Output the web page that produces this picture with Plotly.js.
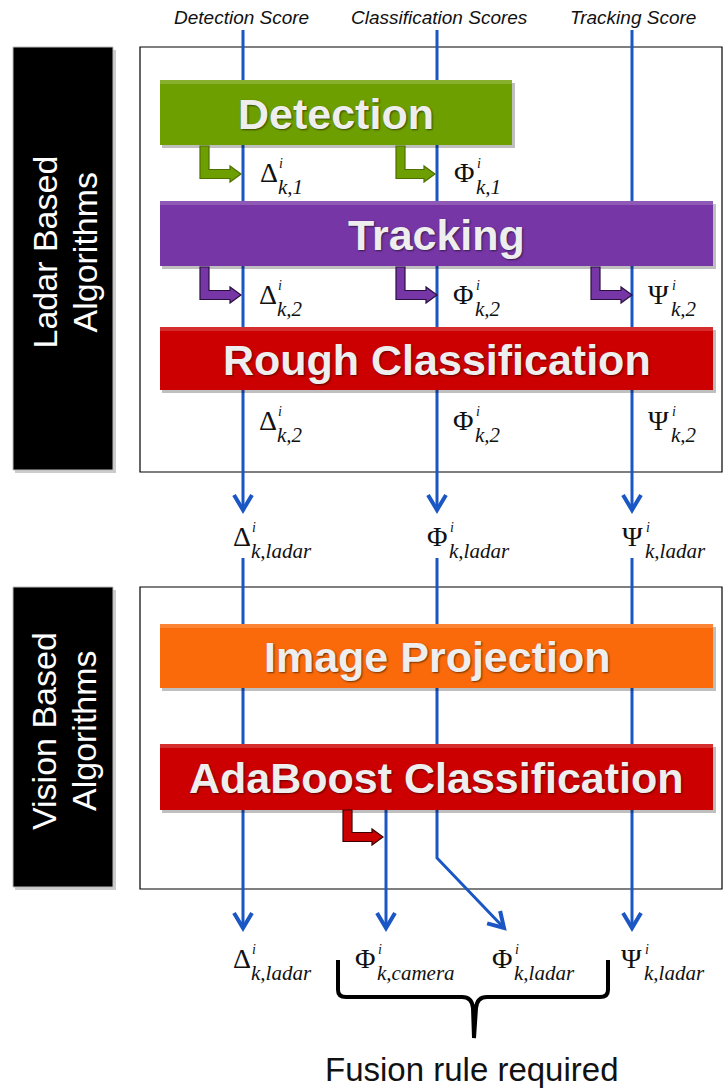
<!DOCTYPE html>
<html>
<head>
<meta charset="utf-8">
<script src="https://cdn.plot.ly/plotly-3.0.1.min.js"></script>
<style>html,body{margin:0;padding:0;background:#fff;}#chart{width:726px;height:1092px;}</style>
</head>
<body>
<div id="chart"></div>
<script>
// ---- data ----
const scoreTitles = ['Detection Score', 'Classification Scores', 'Tracking Score'];
const groupNames = [['Ladar Based', 'Algorithms'], ['Vision Based', 'Algorithms']];
const ladarStages = ['Detection', 'Tracking', 'Rough Classification'];
const visionStages = ['Image Projection', 'AdaBoost Classification'];
const scoreSymbols = ['Δ', 'Φ', 'Ψ'];
const stageSubscripts = ['k,1', 'k,2', 'k,2'];
const ladarSubscript = 'k,ladar';
const fusedSymbols = ['Δ', 'Φ', 'Φ', 'Ψ'];
const fusedSubscripts = ['k,ladar', 'k,camera', 'k,ladar', 'k,ladar'];
const superscript = 'i';
const fusionNote = 'Fusion rule required';

// ---- layout helpers ----
const SANS = 'Liberation Sans, Arial, sans-serif';
const SERIF = 'Liberation Serif, Times New Roman, serif';
const BLUE = '#1a56c4';
const shapes = [];
const annotations = [];

const laneX = [243, 437, 632];
const symW = {'Δ': 17, 'Φ': 21, 'Ψ': 22};

function rect(x0, y0, x1, y1, fill, lineColor, lw, layer) {
  shapes.push({type: 'rect', xref: 'x', yref: 'y', x0, y0, x1, y1, fillcolor: fill,
    line: {color: lineColor || fill, width: lw === undefined ? 0 : lw}, layer: layer || 'above'});
}
function path(d, fill, lineColor, w) {
  shapes.push({type: 'path', xref: 'x', yref: 'y', path: d, fillcolor: fill || 'rgba(0,0,0,0)',
    line: {color: lineColor, width: w}, layer: 'above'});
}
function text(x, y, t, font, opts) {
  annotations.push(Object.assign({xref: 'x', yref: 'y', x, y, text: t, showarrow: false,
    xanchor: 'center', yanchor: 'middle', font}, opts || {}));
}
function chevron(tx, ty, dx, dy) {
  const L = Math.hypot(dx, dy); const ux = dx / L, uy = dy / L; const px = -uy, py = ux;
  const b = 15, h = 9;
  const ax = tx - ux * b + px * h, ay = ty - uy * b + py * h;
  const cx = tx - ux * b - px * h, cy = ty - uy * b - py * h;
  path(`M${ax},${ay} L${tx},${ty} L${cx},${cy}`, null, BLUE, 4);
}
function blueArrow(pts) {
  const d = 'M' + pts.map(p => p.join(',')).join(' L');
  path(d, null, BLUE, 3);
  const n = pts.length; const a = pts[n - 2], b = pts[n - 1];
  chevron(b[0], b[1], b[0] - a[0], b[1] - a[1]);
}
function bentArrow(x0, y0, y1, x1, fill, edge) {
  const w = 9, hh = 8, hl = 11;
  const hx = x1 - hl;
  const d = `M${x0},${y0} L${x0 + w},${y0} L${x0 + w},${y1 - w / 2} L${hx},${y1 - w / 2} L${hx},${y1 - hh} ` +
            `L${x1},${y1} L${hx},${y1 + hh} L${hx},${y1 + w / 2} L${x0},${y1 + w / 2} Z`;
  path(d, fill, edge, 1.2);
}
function scoreLabel(x, y, sym, sub) {
  const w = symW[sym];
  text(x, y, sym, {family: SERIF, size: 28, color: '#111'}, {xanchor: 'left'});
  text(x + w + 2, y - 9, '<i>' + superscript + '</i>', {family: SERIF, size: 14, color: '#111'}, {xanchor: 'left'});
  text(x + w + 1, y + 15, '<i>' + sub + '</i>', {family: SERIF, size: 21, color: '#111'}, {xanchor: 'left'});
}
function stageBox(x0, y0, x1, y1, fill, label) {
  rect(x0 + 2, y0 + 3, x1 + 3, y1 + 3, 'rgba(0,0,0,0.25)');
  rect(x0, y0, x1, y1, fill);
  rect(x0, y0, x1, y0 + 4, 'rgba(255,255,255,0.18)');
  text((x0 + x1) / 2, (y0 + y1) / 2 + 1, label,
    {family: SANS, size: 43, color: '#eeeeee', weight: 'bold', shadow: '1px 1px 2px rgba(0,0,0,0.55)'});
}

// top titles
const titleX = [241, 439, 633];
scoreTitles.forEach((t, i) => text(titleX[i], 17, '<i>' + t + '</i>', {family: SANS, size: 19, color: '#111'}));

// group side labels
const groupY = [[47, 470], [587, 887]];
groupNames.forEach((g, i) => {
  const cy = (groupY[i][0] + groupY[i][1]) / 2 - 6;
  rect(15, groupY[i][0] + 3, 116, groupY[i][1] + 3, 'rgba(0,0,0,0.2)');
  rect(13, groupY[i][0], 113, groupY[i][1], '#000', '#bbb', 1);
  text(44, cy, g[0], {family: SANS, size: 34, color: '#fff'}, {textangle: -90});
  text(84, cy, g[1], {family: SANS, size: 34, color: '#fff'}, {textangle: -90});
});

// group frames
rect(140, 47, 722, 472, 'rgba(0,0,0,0)', '#000', 1.2, 'below');
rect(140, 587, 722, 889, 'rgba(0,0,0,0)', '#000', 1.2, 'below');

// blue lanes (ladar section)
laneX.forEach(x => blueArrow([[x, 30], [x, 510]]));
// vision section lanes
blueArrow([[laneX[0], 558], [laneX[0], 928]]);
blueArrow([[laneX[2], 558], [laneX[2], 928]]);
blueArrow([[laneX[1], 558], [laneX[1], 858], [504, 928]]);
blueArrow([[386, 810], [386, 928]]);

// stage boxes
const ladarBoxes = [[160, 80, 512, 145, '#6e9f00'], [160, 201, 713, 266, '#7636a6'], [160, 327, 713, 390, '#cc0000']];
ladarStages.forEach((s, i) => { const b = ladarBoxes[i]; stageBox(b[0], b[1], b[2], b[3], b[4], s); });
const visionBoxes = [[160, 624, 713, 688, '#fa6a0a'], [160, 744, 713, 810, '#cc0000']];
visionStages.forEach((s, i) => { const b = visionBoxes[i]; stageBox(b[0], b[1], b[2], b[3], b[4], s); });

// bent arrows
bentArrow(200, 146, 174, 241, '#6e9f00', '#4d7000');
bentArrow(396, 146, 174, 435, '#6e9f00', '#4d7000');
[200, 396, 591].forEach(x => bentArrow(x, 267, 295, x + 41, '#7636a6', '#2a0f40'));
bentArrow(343, 810, 837, 383, '#cc0000', '#3a0000');

// stage score labels
[0, 1].forEach(j => scoreLabel(laneX[j] + 15, 172, scoreSymbols[j], stageSubscripts[0]));
[0, 1, 2].forEach(j => scoreLabel(laneX[j] + 14, 294, scoreSymbols[j], stageSubscripts[1]));
[0, 1, 2].forEach(j => scoreLabel(laneX[j] + 14, 420, scoreSymbols[j], stageSubscripts[2]));
// ladar outputs
[0, 1, 2].forEach(j => scoreLabel(laneX[j] - 12, 536, scoreSymbols[j], ladarSubscript));
// fused outputs
const fusedX = [231, 353, 490, 619];
fusedSymbols.forEach((s, j) => scoreLabel(fusedX[j], 958, s, fusedSubscripts[j]));

// brace
path('M338,960 L338,990 Q338,997 346,997 L462,997 Q472,997 473,1008 L474,1038 L476,1008 Q477,997 487,997 L600,997 Q608,997 608,990 L608,960',
  null, '#000', 4);
text(472, 1069, fusionNote, {family: SANS, size: 33, color: '#111'});

const layout = {
  width: 726, height: 1092,
  margin: {l: 0, r: 0, t: 0, b: 0},
  paper_bgcolor: '#fff', plot_bgcolor: '#fff',
  xaxis: {range: [0, 726], visible: false, fixedrange: true},
  yaxis: {range: [1092, 0], visible: false, fixedrange: true},
  showlegend: false,
  shapes, annotations
};
Plotly.newPlot('chart', [{x: [], y: [], type: 'scatter'}], layout, {staticPlot: true, displayModeBar: false});
</script>
</body>
</html>
